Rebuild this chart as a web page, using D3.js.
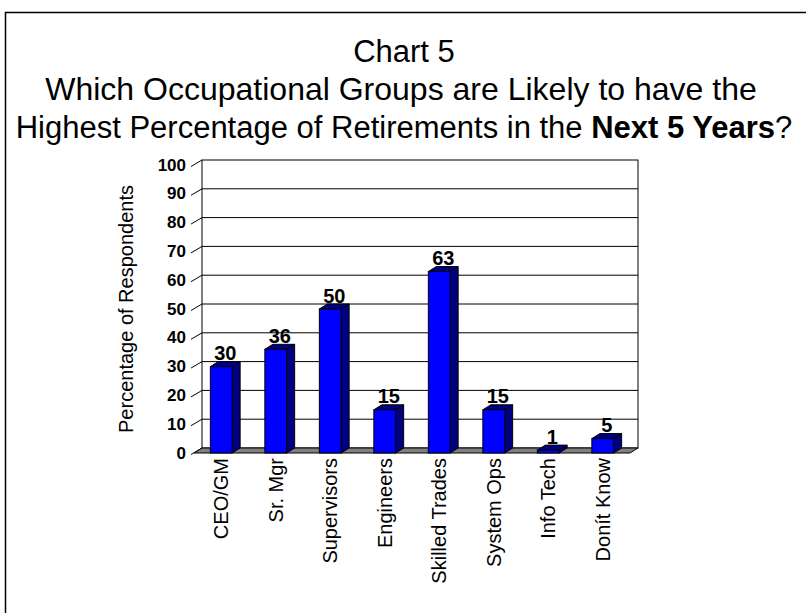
<!DOCTYPE html>
<html>
<head>
<meta charset="utf-8">
<script src="https://cdn.jsdelivr.net/npm/d3@7"></script>
<style>
  body { margin: 0; background: #fff; }
  svg text { font-family: Arial, "Liberation Sans", sans-serif; }
</style>
</head>
<body>
<svg id="chart" width="806" height="613"></svg>
<script>
// data
const categories = ['CEO/GM', 'Sr. Mgr', 'Supervisors', 'Engineers', 'Skilled Trades', 'System Ops', 'Info Tech', 'Donít Know'];
const values = [30, 36, 50, 15, 63, 15, 1, 5];
const yTicks = [0, 10, 20, 30, 40, 50, 60, 70, 80, 90, 100];

const svg = d3.select('#chart');

// 3d offset for the depth of the wall/floor
const dx = 8, dy = -5;
const floorY = 453;

const x = d3.scaleBand()
  .domain(categories)
  .range([194, 630])
  .paddingInner(0.6)
  .paddingOuter(0.3);

const y = d3.scaleLinear().domain([0, 100]).range([floorY, 165]);

svg.append('rect')
  .attr('width', 806).attr('height', 613).attr('fill', '#fff');

// outer frame (runs off the right and bottom)
svg.append('rect')
  .attr('x', 5.5).attr('y', 12.5)
  .attr('width', 900).attr('height', 700)
  .attr('fill', 'none').attr('stroke', '#000').attr('stroke-width', 1.5);

// title
const title = svg.append('g').attr('text-anchor', 'middle');
title.append('text').attr('x', 404).attr('y', 62).attr('font-size', 31).text('Chart 5');
title.append('text').attr('x', 401).attr('y', 100).attr('font-size', 32)
  .text('Which Occupational Groups are Likely to have the');
const t3 = title.append('text').attr('x', 404).attr('y', 137.5).attr('font-size', 31);
t3.append('tspan').text('Highest Percentage of Retirements in the ');
t3.append('tspan').attr('font-weight', 'bold').text('Next 5 Years');
t3.append('tspan').text('?');

const [x0, x1] = x.range();

// back wall
svg.append('rect')
  .attr('x', x0 + dx).attr('y', y(100) + dy)
  .attr('width', x1 - x0).attr('height', y(0) - y(100))
  .attr('fill', '#fff').attr('stroke', '#000');

// gridlines on back wall
svg.append('g').selectAll('line')
  .data(yTicks.slice(1, -1))
  .join('line')
  .attr('x1', x0 + dx).attr('x2', x1 + dx)
  .attr('y1', d => y(d) + dy).attr('y2', d => y(d) + dy)
  .attr('stroke', '#000').attr('stroke-width', 1);

// ticks: slanted from the front axis to the wall
svg.append('g').selectAll('line')
  .data(yTicks)
  .join('line')
  .attr('x1', x0 - 3).attr('y1', d => y(d) + 1.5)
  .attr('x2', x0 + dx).attr('y2', d => y(d) + dy)
  .attr('stroke', '#000');

// floor
const floor = [[x0, floorY], [x1, floorY], [x1 + dx, floorY + dy], [x0 + dx, floorY + dy]];
svg.append('path')
  .attr('d', d3.line()(floor) + 'Z')
  .attr('fill', '#808080').attr('stroke', '#000');

// y tick labels
svg.append('g').selectAll('text')
  .data(yTicks)
  .join('text')
  .attr('x', 186).attr('y', d => y(d))
  .attr('text-anchor', 'end').attr('dominant-baseline', 'central')
  .attr('font-size', 17).attr('font-weight', 'bold')
  .text(d => d);

// y axis title
svg.append('text')
  .attr('transform', `translate(126,${y(50)}) rotate(-90)`)
  .attr('text-anchor', 'middle').attr('dominant-baseline', 'central')
  .attr('font-size', 20)
  .text('Percentage of Respondents');

// bars
const w = x.bandwidth();
const bars = svg.append('g').selectAll('g')
  .data(categories.map((c, i) => ({ c, v: values[i] })))
  .join('g');

bars.append('path') // side
  .attr('d', d => {
    const bx = x(d.c) + w, top = y(d.v);
    return d3.line()([[bx, top], [bx + dx, top + dy], [bx + dx, floorY + dy], [bx, floorY]]) + 'Z';
  })
  .attr('fill', '#000080').attr('stroke', '#000');

bars.append('path') // top
  .attr('d', d => {
    const bx = x(d.c), top = y(d.v);
    return d3.line()([[bx, top], [bx + dx, top + dy], [bx + w + dx, top + dy], [bx + w, top]]) + 'Z';
  })
  .attr('fill', '#000080').attr('stroke', '#000');

bars.append('rect') // front
  .attr('x', d => x(d.c)).attr('y', d => y(d.v))
  .attr('width', w).attr('height', d => floorY - y(d.v))
  .attr('fill', '#0000ff').attr('stroke', '#000');

// value labels
bars.append('text')
  .attr('x', d => x(d.c) + (w + dx) / 2)
  .attr('y', d => y(d.v) + dy - 1.5)
  .attr('text-anchor', 'middle')
  .attr('font-size', 20).attr('font-weight', 'bold')
  .text(d => d.v);

// category labels, rotated
svg.append('g').selectAll('text')
  .data(categories)
  .join('text')
  .attr('transform', d => `translate(${x(d) + w / 2},458) rotate(-90)`)
  .attr('text-anchor', 'end').attr('dominant-baseline', 'central')
  .attr('font-size', 20)
  .text(d => d);
</script>
</body>
</html>
